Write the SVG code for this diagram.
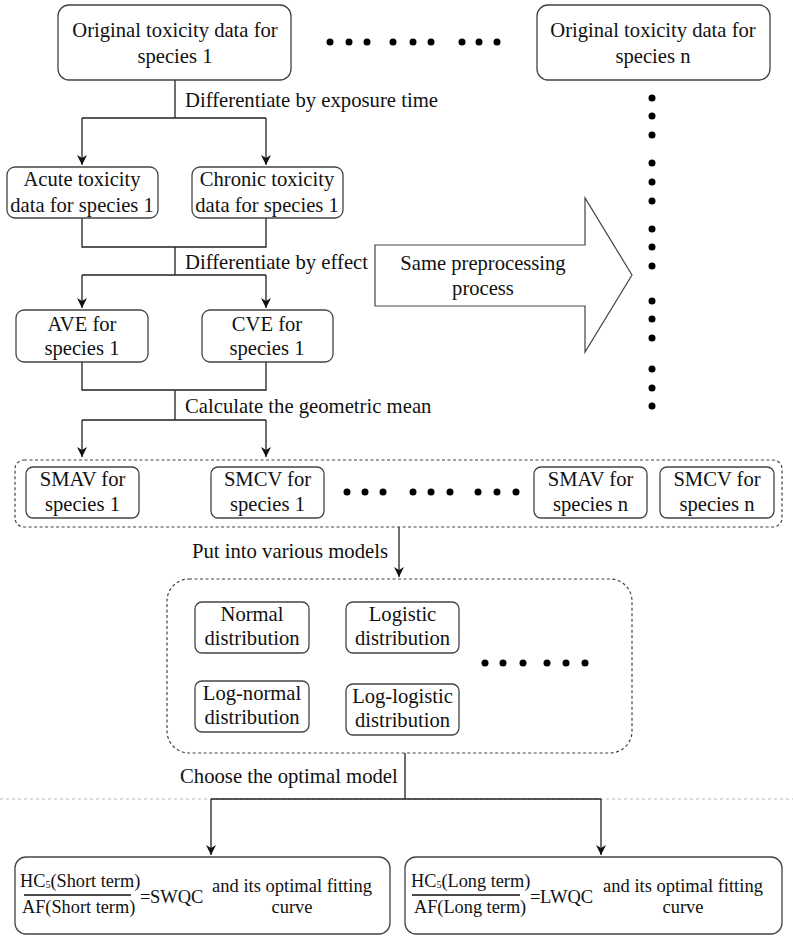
<svg xmlns="http://www.w3.org/2000/svg" width="793" height="938" viewBox="0 0 793 938">
<defs>
<marker id="ah" markerWidth="12" markerHeight="12" refX="10" refY="5" orient="auto" markerUnits="userSpaceOnUse">
<path d="M0,0 L10,5 L0,10 L3,5 Z" fill="#111"/>
</marker>
<style>
.box{fill:#fff;stroke:#444;stroke-width:1.3}
.dbox{fill:none;stroke:#444;stroke-width:1.2;stroke-dasharray:3,2.5}
.t{font-family:"Liberation Serif","Times New Roman",serif;font-size:20.6px;fill:#111;text-anchor:middle}
.lb{font-family:"Liberation Serif","Times New Roman",serif;font-size:20.7px;fill:#111}
.f{font-family:"Liberation Serif","Times New Roman",serif;font-size:18.3px;fill:#111}
.eq{font-family:"Liberation Serif","Times New Roman",serif;font-size:18.5px;fill:#111}
.ct{font-family:"Liberation Serif","Times New Roman",serif;font-size:18.5px;fill:#111;text-anchor:middle}
.c{fill:none;stroke:#222;stroke-width:1.3}
.dot{fill:#000}
</style>
</defs>
<line x1="0" y1="799" x2="793" y2="799" stroke="#bbb" stroke-width="1" stroke-dasharray="3,3"/>

<g id="connectors">
<path class="c" d="M175,80 V118 M82,118 H266"/>
<path class="c" d="M82,118 V165" marker-end="url(#ah)"/>
<path class="c" d="M266,118 V165" marker-end="url(#ah)"/>
<path class="c" d="M82,218 V247 H266 V218 M175,247 V275 M82,275 H266"/>
<path class="c" d="M82,275 V308" marker-end="url(#ah)"/>
<path class="c" d="M266,275 V308" marker-end="url(#ah)"/>
<path class="c" d="M82,362 V390 H266 V362 M175,390 V420 M82,420 H266"/>
<path class="c" d="M82,420 V457" marker-end="url(#ah)"/>
<path class="c" d="M266,420 V457" marker-end="url(#ah)"/>
<path class="c" d="M399,527 V577" marker-end="url(#ah)"/>
<path class="c" d="M405,753 V799 M211,799 H601"/>
<path class="c" d="M211,799 V855" marker-end="url(#ah)"/>
<path class="c" d="M601,799 V855" marker-end="url(#ah)"/>
<text class="lb" x="185" y="107">Differentiate by exposure time</text>
<text class="lb" x="185" y="269">Differentiate by effect</text>
<text class="lb" x="185" y="413">Calculate the geometric mean</text>
<text class="lb" x="192" y="558">Put into various models</text>
<text class="lb" x="180" y="783">Choose the optimal model</text>
</g>

<g id="orig1">
<rect class="box" x="58" y="5" width="233" height="75" rx="11"/>
<text class="t" x="175" y="37">Original toxicity data for</text>
<text class="t" x="175" y="63">species 1</text>
</g>
<g id="orign">
<rect class="box" x="537" y="5" width="233" height="75" rx="11"/>
<text class="t" x="653" y="37">Original toxicity data for</text>
<text class="t" x="653" y="63">species n</text>
</g>
<g id="hdots">
<circle class="dot" cx="330" cy="42" r="3.5"/><circle class="dot" cx="349" cy="42" r="3.5"/><circle class="dot" cx="367" cy="42" r="3.5"/>
<circle class="dot" cx="393" cy="42" r="3.5"/><circle class="dot" cx="413" cy="42" r="3.5"/><circle class="dot" cx="431" cy="42" r="3.5"/>
<circle class="dot" cx="462" cy="42" r="3.5"/><circle class="dot" cx="479" cy="42" r="3.5"/><circle class="dot" cx="497" cy="42" r="3.5"/>
</g>
<g id="vdots">
<circle class="dot" cx="652" cy="98" r="3.5"/><circle class="dot" cx="652" cy="116" r="3.5"/><circle class="dot" cx="652" cy="135" r="3.5"/>
<circle class="dot" cx="652" cy="163" r="3.5"/><circle class="dot" cx="652" cy="182" r="3.5"/><circle class="dot" cx="652" cy="201" r="3.5"/>
<circle class="dot" cx="652" cy="229" r="3.5"/><circle class="dot" cx="652" cy="247" r="3.5"/><circle class="dot" cx="652" cy="266" r="3.5"/>
<circle class="dot" cx="652" cy="301" r="3.5"/><circle class="dot" cx="652" cy="319" r="3.5"/><circle class="dot" cx="652" cy="338" r="3.5"/>
<circle class="dot" cx="652" cy="369" r="3.5"/><circle class="dot" cx="652" cy="388" r="3.5"/><circle class="dot" cx="652" cy="406" r="3.5"/>
</g>

<g id="acute">
<rect class="box" x="7" y="167" width="151" height="51" rx="8"/>
<text class="t" x="82" y="186">Acute toxicity</text>
<text class="t" x="82" y="212">data for species 1</text>
</g>
<g id="chronic">
<rect class="box" x="192" y="167" width="151" height="51" rx="8"/>
<text class="t" x="267" y="186">Chronic toxicity</text>
<text class="t" x="267" y="212">data for species 1</text>
</g>

<g id="bigarrow">
<path d="M375,245 H585 V198 L632,275 L585,352 V306 H375 Z" fill="#fff" stroke="#444" stroke-width="1.2"/>
<text class="t" x="483" y="270">Same preprocessing</text>
<text class="t" x="483" y="295">process</text>
</g>

<g id="ave">
<rect class="box" x="16" y="310" width="132" height="52" rx="8"/>
<text class="t" x="82" y="331">AVE for</text>
<text class="t" x="82" y="355">species 1</text>
</g>
<g id="cve">
<rect class="box" x="202" y="310" width="131" height="52" rx="8"/>
<text class="t" x="267" y="331">CVE for</text>
<text class="t" x="267" y="355">species 1</text>
</g>

<g id="smgroup">
<rect class="dbox" x="15" y="460" width="767" height="67" rx="9"/>
</g>
<g id="smav1">
<rect class="box" x="26" y="467" width="113" height="51" rx="7"/>
<text class="t" x="82.5" y="486">SMAV for</text>
<text class="t" x="82.5" y="511">species 1</text>
</g>
<g id="smcv1">
<rect class="box" x="211" y="467" width="113" height="51" rx="7"/>
<text class="t" x="267.5" y="486">SMCV for</text>
<text class="t" x="267.5" y="511">species 1</text>
</g>
<g id="smdots">
<circle class="dot" cx="347" cy="492" r="3.5"/><circle class="dot" cx="365" cy="492" r="3.5"/><circle class="dot" cx="383" cy="492" r="3.5"/>
<circle class="dot" cx="413" cy="492" r="3.5"/><circle class="dot" cx="431" cy="492" r="3.5"/><circle class="dot" cx="450" cy="492" r="3.5"/>
<circle class="dot" cx="478" cy="492" r="3.5"/><circle class="dot" cx="497" cy="492" r="3.5"/><circle class="dot" cx="516" cy="492" r="3.5"/>
</g>
<g id="smavn">
<rect class="box" x="534" y="467" width="113" height="51" rx="7"/>
<text class="t" x="590.5" y="486">SMAV for</text>
<text class="t" x="590.5" y="511">species n</text>
</g>
<g id="smcvn">
<rect class="box" x="660" y="467" width="114" height="51" rx="7"/>
<text class="t" x="717" y="486">SMCV for</text>
<text class="t" x="717" y="511">species n</text>
</g>

<g id="models">
<rect class="dbox" x="167" y="579" width="465" height="174" rx="22"/>
</g>
<g id="normal">
<rect class="box" x="195" y="602" width="114" height="51" rx="7"/>
<text class="t" x="252" y="621">Normal</text>
<text class="t" x="252" y="645">distribution</text>
</g>
<g id="logistic">
<rect class="box" x="346" y="602" width="113" height="51" rx="7"/>
<text class="t" x="402.5" y="621">Logistic</text>
<text class="t" x="402.5" y="645">distribution</text>
</g>
<g id="lognormal">
<rect class="box" x="195" y="681" width="114" height="51" rx="7"/>
<text class="t" x="252" y="700">Log-normal</text>
<text class="t" x="252" y="724">distribution</text>
</g>
<g id="loglogistic">
<rect class="box" x="346" y="684" width="113" height="51" rx="7"/>
<text class="t" x="402.5" y="703">Log-logistic</text>
<text class="t" x="402.5" y="727">distribution</text>
</g>
<g id="mdots">
<circle class="dot" cx="485" cy="663" r="3.5"/><circle class="dot" cx="503" cy="663" r="3.5"/><circle class="dot" cx="523" cy="663" r="3.5"/>
<circle class="dot" cx="547" cy="663" r="3.5"/><circle class="dot" cx="566" cy="663" r="3.5"/><circle class="dot" cx="585" cy="663" r="3.5"/>
</g>

<g id="swqc">
<rect class="box" x="15" y="857" width="375" height="77" rx="11"/>
<text class="f" x="20" y="887">HC<tspan style="font-size:10px" dy="1">5</tspan><tspan dy="-1">(Short term)</tspan></text>
<line x1="24" y1="895" x2="131" y2="895" stroke="#111" stroke-width="1.6"/>
<text class="f" x="22" y="913">AF(Short term)</text>
<text class="eq" x="140" y="903">=</text>
<text class="eq" x="150" y="903">SWQC</text>
<text class="ct" x="292" y="892">and its optimal fitting</text>
<text class="ct" x="292" y="913">curve</text>
</g>
<g id="lwqc">
<rect class="box" x="405" y="857" width="377" height="77" rx="11"/>
<text class="f" x="411" y="887">HC<tspan style="font-size:10px" dy="1">5</tspan><tspan dy="-1">(Long term)</tspan></text>
<line x1="412" y1="895" x2="520" y2="895" stroke="#111" stroke-width="1.6"/>
<text class="f" x="414" y="913">AF(Long term)</text>
<text class="eq" x="530" y="903">=</text>
<text class="eq" x="540" y="903">LWQC</text>
<text class="ct" x="683" y="892">and its optimal fitting</text>
<text class="ct" x="683" y="913">curve</text>
</g>
</svg>
